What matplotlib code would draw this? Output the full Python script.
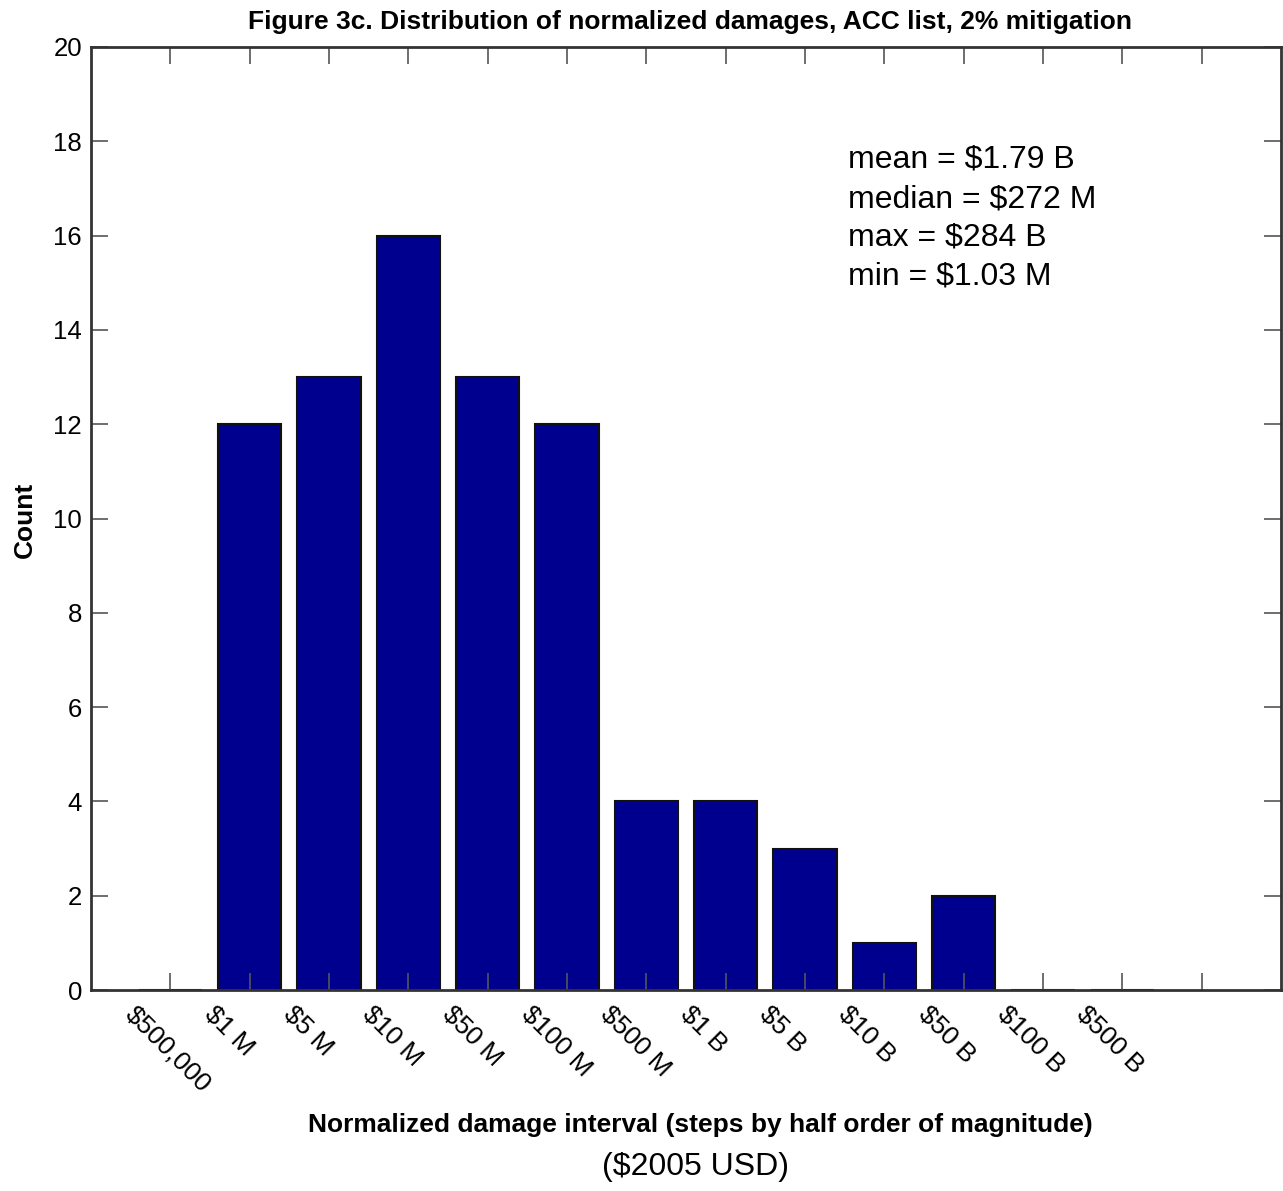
import numpy as np
import matplotlib.pyplot as plt
import matplotlib.transforms as mtransforms

plt.rc('font', family=['Liberation Sans', 'DejaVu Sans'])

labels = ["$500,000", "$1 M", "$5 M", "$10 M", "$50 M", "$100 M", "$500 M",
          "$1 B", "$5 B", "$10 B", "$50 B", "$100 B", "$500 B"]
counts = [0, 12, 13, 16, 13, 12, 4, 4, 3, 1, 2, 0, 0]
stats = ["mean = $1.79 B", "median = $272 M", "max = $284 B", "min = $1.03 M"]

W, H = 1283, 1191
fig = plt.figure(figsize=(W/100, H/100), dpi=100)
ax = fig.add_axes([91/W, 1-990/H, 1190/W, 943/H])

pos = np.arange(1, len(labels)+1)
ax.bar(pos, counts, width=0.8, color="#00008f", edgecolor="#111111", linewidth=1.5)

ax.set_xlim(0, 15)
ax.set_ylim(0, 20)
ax.set_yticks(np.arange(0, 21, 2))
ax.set_xticks(np.arange(1, 15))
ax.set_xticklabels([])

ax.tick_params(axis="both", direction="in", length=12, width=1.2, color="#555555",
               top=True, right=True, labelsize=18.5, pad=6.5)
for s in ax.spines.values():
    s.set_color("#333333")
    s.set_linewidth(2)

# rotated tick labels, left-aligned a bit left of each tick
off = mtransforms.ScaledTranslation(-33/100, -12/100, fig.dpi_scale_trans)
for p, lab in zip(pos, labels):
    ax.text(p, 0, lab, transform=ax.get_xaxis_transform() + off, rotation=-45,
            rotation_mode="anchor", ha="left", va="top", fontsize=19)

fig.text(690/W, 1-29.5/H, "Figure 3c. Distribution of normalized damages, ACC list, 2% mitigation",
         ha="center", va="baseline", fontsize=19, fontweight="bold")
fig.text(25/W, 1-520/H, "Count", rotation=90, ha="center", va="center",
         fontsize=19, fontweight="bold")
fig.text(700/W, 1-1132/H, "Normalized damage interval (steps by half order of magnitude)",
         ha="center", va="baseline", fontsize=19, fontweight="bold")
fig.text(696/W, 1-1167/H, "($2005 USD)", ha="center", va="center", fontsize=23)

for i, s in enumerate(stats):
    fig.text(848/W, 1-(168 + 39*i)/H, s, ha="left", va="baseline", fontsize=23)

plt.savefig("out.png")
